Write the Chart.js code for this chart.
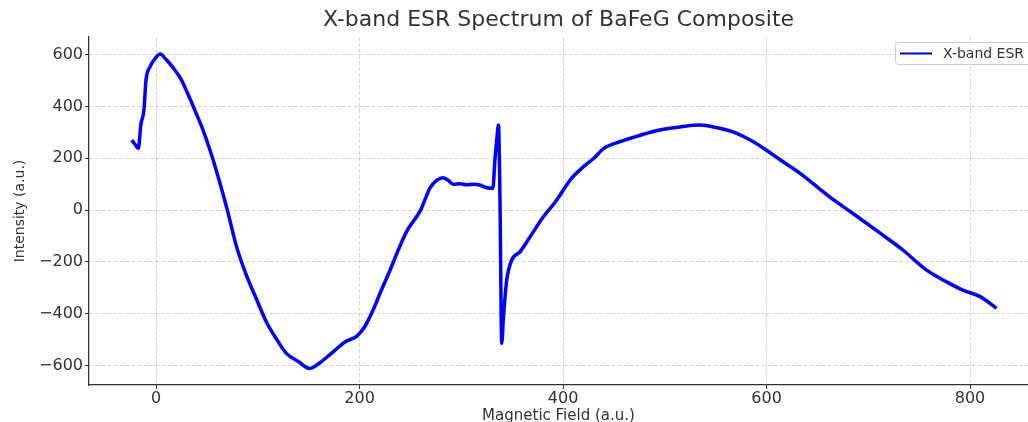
<!DOCTYPE html>
<html>
<head>
<meta charset="utf-8">
<title>X-band ESR Spectrum</title>
<script src="https://cdn.jsdelivr.net/npm/chart.js@4.4.1/dist/chart.umd.min.js"></script>
<style>
  html, body { margin: 0; padding: 0; background: #fff; }
  #esrChart { display: block; }
</style>
</head>
<body>
<canvas id="esrChart" width="1028" height="422"></canvas>
<script>
// ===== Data =====
const fieldValues = [
  -24, -21, -17.5, -15, -12, -10, -6, -1, 4, 10,
  17, 24, 31, 38, 46, 53, 61, 70, 79, 88,
  99, 109, 119, 128, 140, 151, 161, 174, 186, 197,
  205, 214, 220, 230, 238, 246, 260, 269, 276, 282,
  287, 292, 299, 305, 312, 318, 325, 331, 333, 335,
  336.5, 338, 339.7, 341.4, 344.6, 349.6, 357.7, 367.6, 380.6, 393.8,
  406.9, 420, 430, 440, 456, 476, 495, 515, 535, 548,
  567, 587, 600, 613, 633, 662, 685, 712, 734, 757,
  777, 793, 810, 826
];
const intensityValues = [
  270, 255, 238, 330, 386, 501, 553, 585, 602, 580,
  548, 508, 450, 386, 310, 231, 128, 0, -141, -244,
  -347, -437, -502, -553, -585, -611, -589, -547, -508, -487,
  -450, -379, -322, -231, -154, -84, 0, 84, 116, 125,
  115, 100, 102, 98, 100, 97, 86, 84, 193, 280,
  328, 39, -514, -412, -270, -193, -161, -103, -26, 39,
  116, 167, 199, 238, 264, 289, 309, 321, 328, 321,
  302, 264, 231, 195, 142, 51, -13, -90, -154, -231,
  -277, -309, -334, -379
];
const xTicks = [0, 200, 400, 600, 800];
const yTicks = [-600, -400, -200, 0, 200, 400, 600];
const seriesLabel = 'X-band ESR';

const FONT = "'DejaVu Sans', sans-serif";
const INK = '#333333';

const points = fieldValues.map((x, i) => ({ x: x, y: intensityValues[i] }));

// legend box drawn inside the plot, top right
const insideLegend = {
  id: 'insideLegend',
  afterDraw(chart) {
    const ctx = chart.ctx;
    ctx.save();
    ctx.fillStyle = 'rgba(255,255,255,0.85)';
    ctx.strokeStyle = '#cccccc';
    ctx.lineWidth = 1;
    ctx.beginPath();
    ctx.roundRect(895.5, 42.5, 150, 22, 3);
    ctx.fill();
    ctx.stroke();
    ctx.strokeStyle = '#0000ff';
    ctx.lineWidth = 2;
    ctx.beginPath();
    ctx.moveTo(900, 53.5);
    ctx.lineTo(932, 53.5);
    ctx.stroke();
    ctx.fillStyle = INK;
    ctx.font = '14px ' + FONT;
    ctx.textBaseline = 'middle';
    ctx.fillText(seriesLabel, 943, 54);
    ctx.restore();
  }
};

const minusFmt = v => (v < 0 ? '\u2212' + Math.abs(v) : String(v));

new Chart(document.getElementById('esrChart'), {
  type: 'line',
  data: {
    datasets: [{
      label: seriesLabel,
      data: points,
      borderColor: '#0000ff',
      borderWidth: 3.5,
      pointRadius: 0,
      cubicInterpolationMode: 'monotone',
      fill: false
    }]
  },
  options: {
    responsive: false,
    animation: false,
    layout: { padding: 0 },
    plugins: {
      legend: { display: false },
      tooltip: { enabled: false },
      title: {
        display: true,
        text: 'X-band ESR Spectrum of BaFeG Composite',
        fullSize: false,
        color: INK,
        font: { family: FONT, size: 22, weight: 'normal', lineHeight: 1.2 },
        padding: { top: 7, bottom: 3.6 }
      }
    },
    scales: {
      x: {
        type: 'linear',
        min: -66,
        max: 857,
        afterFit: s => { s.height = 37; },
        afterBuildTicks: s => { s.ticks = xTicks.map(v => ({ value: v })); },
        ticks: {
          color: INK,
          font: { family: FONT, size: 16 },
          padding: 0,
          maxRotation: 0,
          callback: minusFmt
        },
        grid: {
          color: 'rgba(0,0,0,0.16)',
          tickColor: INK,
          tickLength: 4,
          tickWidth: 1
        },
        border: { color: INK, width: 1.3, dash: [4, 2] },
        title: {
          display: true,
          text: 'Magnetic Field (a.u.)',
          color: INK,
          font: { family: FONT, size: 15, lineHeight: 1.0 },
          padding: { top: 0, bottom: -2 }
        }
      },
      y: {
        type: 'linear',
        min: -675,
        max: 668,
        afterFit: s => { s.width = 89; },
        afterBuildTicks: s => { s.ticks = yTicks.map(v => ({ value: v })); },
        ticks: {
          color: INK,
          font: { family: FONT, size: 16 },
          padding: 2,
          callback: minusFmt
        },
        grid: {
          color: 'rgba(0,0,0,0.16)',
          tickColor: INK,
          tickLength: 4,
          tickWidth: 1
        },
        border: { color: INK, width: 1.3, dash: [4, 2] },
        title: {
          display: true,
          text: 'Intensity (a.u.)',
          color: INK,
          font: { family: FONT, size: 14, lineHeight: 1.2 },
          padding: { top: 12, bottom: 0 }
        }
      }
    }
  },
  plugins: [insideLegend]
});
</script>
</body>
</html>
